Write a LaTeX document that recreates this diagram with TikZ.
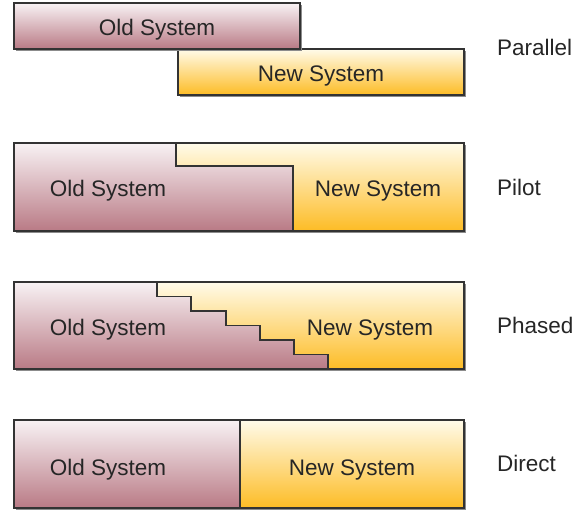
\documentclass[tikz,border=0pt]{standalone}
\usepackage{fontspec}
\setmainfont{Liberation Sans}
\begin{document}
\definecolor{oldtop}{HTML}{F8F2F4}
\definecolor{oldbot}{HTML}{B97A85}
\definecolor{newtop}{HTML}{FFFBEA}
\definecolor{newbot}{HTML}{FDBC25}
\definecolor{edge}{HTML}{333333}
\definecolor{ink}{HTML}{262626}
\begin{tikzpicture}[x=1pt,y=-1pt,
  oldfill/.style={top color=oldtop,bottom color=oldbot},
  newfill/.style={top color=newtop,bottom color=newbot},
  frame/.style={draw=edge,line width=1.5pt,line join=miter},
  divider/.style={draw=edge,line width=1.1pt},
  shadowbox/.style={fill=black!45},
  txt/.style={text=ink,font=\fontsize{22.5}{26}\selectfont,inner sep=0pt},
  lbl/.style={txt,yshift=-3pt},
  caption/.style={txt,anchor=west}]
\useasboundingbox (0,0) rectangle (581,510);

% --- Parallel: two overlapping bars
\fill[shadowbox] (180,51) rectangle (466,97);
\fill[newfill] (178,49) rectangle (464,95);
\draw[frame] (178,49) rectangle (464,95);
\fill[shadowbox] (16,5) rectangle (302,51);
\fill[oldfill] (14,3) rectangle (300,49);
\draw[frame] (14,3) rectangle (300,49);
\node[lbl] (par-old) at (157,27) {Old System};
\node[lbl] (par-new) at (321,73) {New System};
\node[caption] (par-cap) at (497,47) {Parallel};

% --- Pilot: one step from old to new
\fill[shadowbox] (16,145) rectangle (466,233);
\fill[newfill] (14,143) rectangle (464,231);
\fill[oldfill] (14,143) -- (176,143) -- (176,166) -- (293,166) -- (293,231) -- (14,231) -- cycle;
\draw[divider] (176,143) -- (176,166) -- (293,166) -- (293,231);
\draw[frame] (14,143) rectangle (464,231);
\node[lbl] (pil-old) at (108,188) {Old System};
\node[lbl] (pil-new) at (378,188) {New System};
\node[caption] (pil-cap) at (497,187) {Pilot};

% --- Phased: a staircase of six steps
\fill[shadowbox] (16,284) rectangle (466,371);
\fill[newfill] (14,282) rectangle (464,369);
\fill[oldfill] (14,282) -- (157,282) -- (157,296.5) -- (191,296.5) -- (191,311) -- (226,311)
  -- (226,325.5) -- (260,325.5) -- (260,340) -- (294,340) -- (294,354.5) -- (328,354.5)
  -- (328,369) -- (14,369) -- cycle;
\draw[divider] (157,282) -- (157,296.5) -- (191,296.5) -- (191,311) -- (226,311)
  -- (226,325.5) -- (260,325.5) -- (260,340) -- (294,340) -- (294,354.5) -- (328,354.5)
  -- (328,369);
\draw[frame] (14,282) rectangle (464,369);
\node[lbl] (pha-old) at (108,327) {Old System};
\node[lbl] (pha-new) at (370,327) {New System};
\node[caption] (pha-cap) at (497,325) {Phased};

% --- Direct: a clean cut-over
\fill[shadowbox] (16,422) rectangle (466,510);
\fill[oldfill] (14,420) rectangle (240,508);
\fill[newfill] (240,420) rectangle (464,508);
\draw[divider] (240,420) -- (240,508);
\draw[frame] (14,420) rectangle (464,508);
\node[lbl] (dir-old) at (108,467) {Old System};
\node[lbl] (dir-new) at (352,467) {New System};
\node[caption] (dir-cap) at (497,463) {Direct};
\end{tikzpicture}
\end{document}
